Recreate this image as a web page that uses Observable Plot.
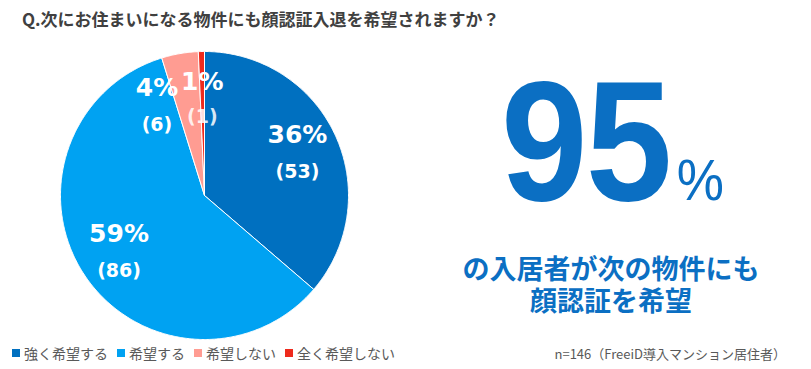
<!DOCTYPE html>
<html>
<head>
<meta charset="utf-8">
<script src="https://cdn.jsdelivr.net/npm/d3@7"></script>
<script src="https://cdn.jsdelivr.net/npm/@observablehq/plot@0.6"></script>
<style>
  html, body { margin: 0; padding: 0; background: #fff; }
  #wrap { position: relative; width: 811px; height: 369px; overflow: hidden; background: #fff; }
  #title { position: absolute; left: 22px; top: 9px; font: 700 17px/20px "Noto Sans CJK JP", sans-serif; color: #404040; white-space: nowrap; }
  #pie { position: absolute; left: 0; top: 40px; }
  #big { position: absolute; left: 501px; top: 56px; color: #0B6FC3; transform: scaleX(0.915); transform-origin: left center;
         font-family: "Liberation Sans", Arial, sans-serif; font-weight: 700; line-height: 170px; white-space: nowrap; }
  #big .num { font-size: 170px; letter-spacing: -2px; }
  #big .pct { font-size: 58px; font-weight: 400; margin-left: 7px; }
  .sub { position: absolute; left: 411px; width: 400px; text-align: center; color: #0B6FC3;
         font: 700 27px/30px "Noto Sans CJK JP", sans-serif; white-space: nowrap; }
  #sub1 { top: 253px; }
  #sub2 { top: 285px; }
  #legend { position: absolute; left: 12px; top: 344px; }
  #legend .lg-swatches { font-family: "Noto Sans CJK JP", sans-serif !important; font-size: 14px !important; color: #595959; min-height: 0 !important; margin: 0 !important; line-height: 18px; }
  #legend .lg-swatch { margin-right: 9px !important; }
  #legend .lg-swatch > svg { margin-right: 4px !important; }
  #note { position: absolute; right: 25px; top: 346px; font: 400 13px/16px "Noto Sans CJK JP", sans-serif; color: #595959; white-space: nowrap; }
</style>
</head>
<body>
<div id="wrap">
  <div id="title">Q.次にお住まいになる物件にも顔認証入退を希望されますか？</div>
  <div id="pie"></div>
  <div id="big"><span class="num"></span><span class="pct">%</span></div>
  <div class="sub" id="sub1">の入居者が次の物件にも</div>
  <div class="sub" id="sub2">顔認証を希望</div>
  <div id="legend"></div>
  <div id="note">n=146（FreeiD導入マンション居住者）</div>
</div>
<script>
const categories = ["強く希望する", "希望する", "希望しない", "全く希望しない"];
const counts = [53, 86, 6, 1];
const colors = ["#0070C0", "#00A2F2", "#FF9C92", "#EE2A1C"];

const rows = categories.map((key, i) => ({key, count: counts[i]}));
const total = d3.sum(counts);
const arcs = d3.pie().sort(null).value(d => d.count)(rows);

// slice polygons in unit-circle coordinates (angles clockwise from 12 o'clock)
const poly = [];
for (const a of arcs) {
  const n = Math.max(2, Math.ceil((a.endAngle - a.startAngle) / (Math.PI / 360)));
  poly.push({key: a.data.key, x: 0, y: 0});
  for (let k = 0; k <= n; k++) {
    const t = a.startAngle + (a.endAngle - a.startAngle) * k / n;
    poly.push({key: a.data.key, x: Math.sin(t), y: Math.cos(t)});
  }
  poly.push({key: a.data.key, x: 0, y: 0});
}

const labelR = 0.71;
const labels = arcs.map(a => {
  const m = (a.startAngle + a.endAngle) / 2;
  return {
    key: a.data.key,
    x: labelR * Math.sin(m),
    y: labelR * Math.cos(m),
    pct: Math.round(a.data.count / total * 100) + "%",
    n: "(" + a.data.count + ")"
  };
});
const nudged = labels.filter(d => d.key === "希望しない");
const tiny = labels.filter(d => d.key === "全く希望しない");
const regular = labels.filter(d => d.key !== "希望しない" && d.key !== "全く希望しない");

const textStyle = {fill: "white", fontFamily: "DejaVu Sans", fontWeight: "bold"};

const chart = Plot.plot({
  width: 420,
  height: 310,
  marginTop: 11,
  marginBottom: 11,
  marginLeft: 60,
  marginRight: 72,
  x: {domain: [-1, 1], axis: null},
  y: {domain: [-1, 1], axis: null},
  color: {domain: categories, range: colors},
  marks: [
    Plot.line(poly, {x: "x", y: "y", z: "key", fill: "key", stroke: "white", strokeWidth: 1, strokeLinejoin: "round"}),
    Plot.text(regular, {x: "x", y: "y", text: "pct", dy: -18, fontSize: 25, ...textStyle}),
    Plot.text(regular, {x: "x", y: "y", text: "n", dy: 19, fontSize: 19, ...textStyle}),
    Plot.text(nudged, {x: "x", y: "y", text: "pct", dx: -30, dy: -7, fontSize: 25, ...textStyle}),
    Plot.text(nudged, {x: "x", y: "y", text: "n", dx: -30, dy: 30, fontSize: 19, ...textStyle}),
    Plot.text(tiny, {x: "x", y: "y", text: "pct", dy: -11, fontSize: 25, ...textStyle}),
    Plot.text(tiny, {x: "x", y: "y", text: "n", dy: 24, fontSize: 19, ...textStyle, fillOpacity: 0.85})
  ]
});
document.getElementById("pie").appendChild(chart);

const legend = chart.legend("color", {legend: "swatches", swatchSize: 8, className: "lg"});
document.getElementById("legend").appendChild(legend);

const positive = d3.sum(arcs.filter(a => a.data.key === "強く希望する" || a.data.key === "希望する"), a => a.data.count);
document.querySelector("#big .num").textContent = Math.round(positive / total * 100);
</script>
</body>
</html>
